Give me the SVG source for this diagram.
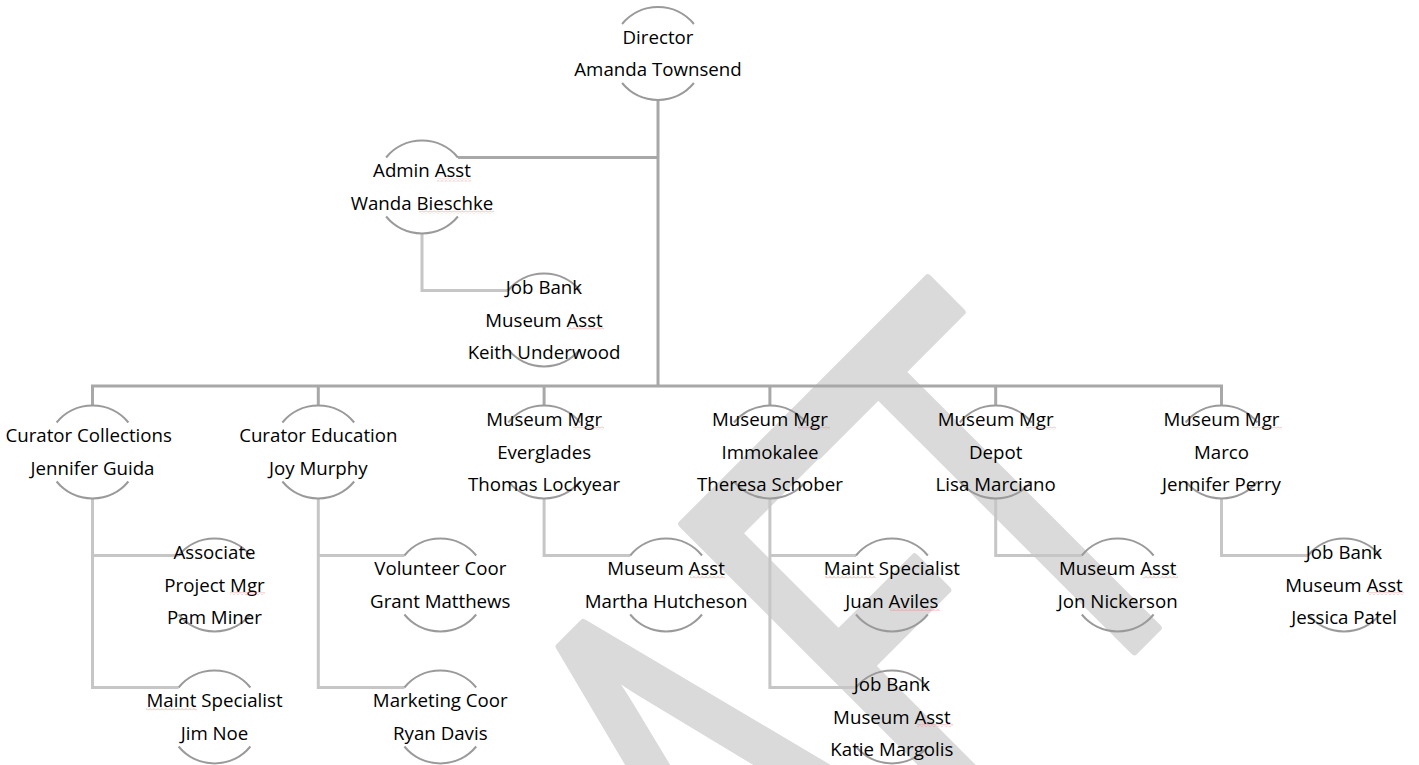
<svg xmlns="http://www.w3.org/2000/svg" xmlns:xlink="http://www.w3.org/1999/xlink" width="1419" height="765" viewBox="0 0 1419 765">
<style>
.wm{font-family:Lato,"Liberation Sans",sans-serif;font-size:570px;fill:#dadada;stroke:#dadada;stroke-width:9;stroke-linejoin:round}
.t{font-family:"Open Sans","Liberation Sans",sans-serif;font-size:18.7px;fill:#000;text-anchor:middle}
.arc{fill:none;stroke:#9a9a9a;stroke-width:2}
.c1{fill:none;stroke:#a8a8a8;stroke-width:3}
.c2{fill:none;stroke:#c6c6c6;stroke-width:3}
.sq{fill:url(#squig)}
</style>
<defs>
<g id="bub"><path class="arc" d="M-35.9,-29.5 A46.5,46.5 0 0 1 35.9,-29.5 M-35.9,29.5 A46.5,46.5 0 0 0 35.9,29.5"/></g>
<pattern id="squig" patternUnits="userSpaceOnUse" width="4" height="3"><polyline points="0,2.5 2,0.5 4,2.5" fill="none" stroke="#e07070" stroke-opacity="0.7" stroke-width="0.8"/></pattern>
</defs>
<rect width="1419" height="765" fill="#fff"/>
<g id="watermark"><text class="wm" transform="rotate(-45) scale(0.64 1)" x="-1004 -605 -263 121 391" y="1262">DRAFT</text></g>
<g id="connectors">
<path class="c1" d="M658,100 V386 M658,157.5 H458 M92.5,405.5 V386 H1221.5 V405.5 M318.3,386 V405.5 M544.1,386 V405.5 M769.9,386 V405.5 M995.7,386 V405.5"/>
<path class="c2" d="M422,233.5 V290.5 H508.1 M92.5,498.5 V687.5 H178.6 M92.5,555.5 H178.6 M318.3,498.5 V687.5 H404.4 M318.3,555.5 H404.4 M544.1,498.5 V555.5 H630.2 M769.9,498.5 V687.5 H856 M769.9,555.5 H856 M995.7,498.5 V555.5 H1081.8 M1221.5,498.5 V555.5 H1307.6"/>
</g>
<g id="director"><use xlink:href="#bub" x="658" y="53.5"/><text class="t" x="658" y="43.75">Director</text><text class="t" x="658" y="76.25">Amanda Townsend</text></g>
<g id="admin"><use xlink:href="#bub" x="422" y="187"/><text class="t" x="422" y="177.25">Admin Asst</text><text class="t" x="422" y="209.75">Wanda Bieschke</text></g>
<g id="keith"><use xlink:href="#bub" x="544" y="320"/><text class="t" x="544" y="294">Job Bank</text><text class="t" x="544" y="326.5">Museum Asst</text><text class="t" x="544" y="359">Keith Underwood</text></g>
<g id="curator-collections"><use xlink:href="#bub" x="92.5" y="452"/><text class="t" x="88.7" y="442.25">Curator Collections</text><text class="t" x="92.5" y="474.75">Jennifer Guida</text></g>
<g id="curator-education"><use xlink:href="#bub" x="318.3" y="452"/><text class="t" x="318.3" y="442.25">Curator Education</text><text class="t" x="318.3" y="474.75">Joy Murphy</text></g>
<g id="mgr-everglades"><use xlink:href="#bub" x="544.1" y="452"/><text class="t" x="544.1" y="426">Museum Mgr</text><text class="t" x="544.1" y="458.5">Everglades</text><text class="t" x="544.1" y="491">Thomas Lockyear</text></g>
<g id="mgr-immokalee"><use xlink:href="#bub" x="769.9" y="452"/><text class="t" x="769.9" y="426">Museum Mgr</text><text class="t" x="769.9" y="458.5">Immokalee</text><text class="t" x="769.9" y="491">Theresa Schober</text></g>
<g id="mgr-depot"><use xlink:href="#bub" x="995.7" y="452"/><text class="t" x="995.7" y="426">Museum Mgr</text><text class="t" x="995.7" y="458.5">Depot</text><text class="t" x="995.7" y="491">Lisa Marciano</text></g>
<g id="mgr-marco"><use xlink:href="#bub" x="1221.5" y="452"/><text class="t" x="1221.5" y="426">Museum Mgr</text><text class="t" x="1221.5" y="458.5">Marco</text><text class="t" x="1221.5" y="491">Jennifer Perry</text></g>
<g id="associate"><use xlink:href="#bub" x="214.5" y="585"/><text class="t" x="214.5" y="559">Associate</text><text class="t" x="214.5" y="591.5">Project Mgr</text><text class="t" x="214.5" y="624">Pam Miner</text></g>
<g id="jim-noe"><use xlink:href="#bub" x="214.5" y="717"/><text class="t" x="214.5" y="707.25">Maint Specialist</text><text class="t" x="214.5" y="739.75">Jim Noe</text></g>
<g id="volunteer"><use xlink:href="#bub" x="440.3" y="585"/><text class="t" x="440.3" y="575.25">Volunteer Coor</text><text class="t" x="440.3" y="607.75">Grant Matthews</text></g>
<g id="marketing"><use xlink:href="#bub" x="440.3" y="717"/><text class="t" x="440.3" y="707.25">Marketing Coor</text><text class="t" x="440.3" y="739.75">Ryan Davis</text></g>
<g id="martha"><use xlink:href="#bub" x="666.1" y="585"/><text class="t" x="666.1" y="575.25">Museum Asst</text><text class="t" x="666.1" y="607.75">Martha Hutcheson</text></g>
<g id="juan"><use xlink:href="#bub" x="891.9" y="585"/><text class="t" x="891.9" y="575.25">Maint Specialist</text><text class="t" x="891.9" y="607.75">Juan Aviles</text></g>
<g id="katie"><use xlink:href="#bub" x="891.9" y="717"/><text class="t" x="891.9" y="691">Job Bank</text><text class="t" x="891.9" y="723.5">Museum Asst</text><text class="t" x="891.9" y="756">Katie Margolis</text></g>
<g id="jon"><use xlink:href="#bub" x="1117.7" y="585"/><text class="t" x="1117.7" y="575.25">Museum Asst</text><text class="t" x="1117.7" y="607.75">Jon Nickerson</text></g>
<g id="jessica"><use xlink:href="#bub" x="1344" y="585"/><text class="t" x="1344" y="559">Job Bank</text><text class="t" x="1344" y="591.5">Museum Asst</text><text class="t" x="1344" y="624">Jessica Patel</text></g>
<g id="spellcheck">
<rect class="sq" x="437" y="178.5" width="34" height="3"/>
<rect class="sq" x="419" y="210.5" width="75" height="3"/>
<rect class="sq" x="568" y="327" width="36" height="3"/>
<rect class="sq" x="573" y="426.5" width="31" height="3"/>
<rect class="sq" x="798" y="426.5" width="32" height="3"/>
<rect class="sq" x="1026" y="426.5" width="30" height="3"/>
<rect class="sq" x="1252" y="426.5" width="30" height="3"/>
<rect class="sq" x="230" y="592" width="35" height="3"/>
<rect class="sq" x="146" y="707.5" width="51" height="3"/>
<rect class="sq" x="690" y="575.5" width="35" height="3"/>
<rect class="sq" x="825" y="575.5" width="51" height="3"/>
<rect class="sq" x="890" y="608" width="50" height="3"/>
<rect class="sq" x="917" y="724" width="36" height="3"/>
<rect class="sq" x="1143" y="575.5" width="35" height="3"/>
<rect class="sq" x="1368" y="592" width="36" height="3"/>
</g>
</svg>
